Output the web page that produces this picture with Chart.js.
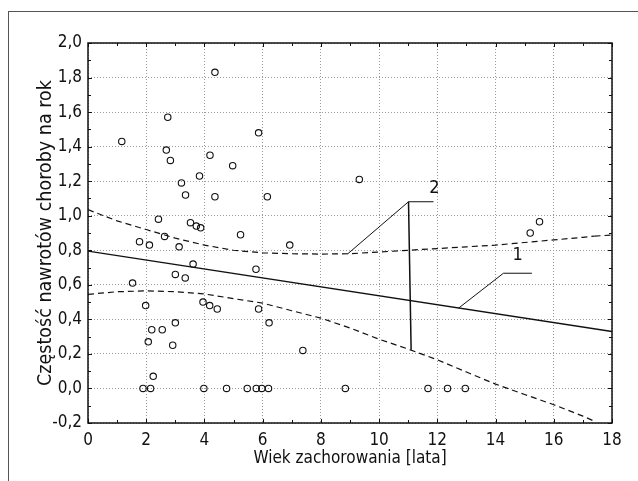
<!DOCTYPE html>
<html>
<head>
<meta charset="utf-8">
<script src="https://cdn.jsdelivr.net/npm/chart.js@4.4.1/dist/chart.umd.min.js"></script>
<style>
  html, body { margin: 0; padding: 0; background: #fff; }
  #wrap { position: relative; width: 638px; height: 481px; }
  #frame { position: absolute; left: 8px; top: 11px; right: 0; bottom: 0;
           border-left: 1.5px solid #555; border-top: 1.5px solid #555; }
  canvas { position: absolute; left: 0; top: 0; }
</style>
</head>
<body>
<div id="wrap">
  <div id="frame"></div>
  <canvas id="chart" width="638" height="481"></canvas>
</div>
<script>
// wiek zachorowania [lata] i częstość nawrotów na rok
const ageValues = [
  1.16, 2.74, 2.69, 2.83, 4.36, 4.19, 3.83, 3.21, 3.35, 4.36, 4.97, 5.86, 6.16,
  9.32, 6.93, 7.38, 15.51, 15.19, 2.42, 1.77, 2.11, 2.63, 3.13, 3.52, 3.72, 3.87,
  5.24, 3.61, 3.00, 3.34, 1.53, 5.77, 1.98, 3.95, 4.18, 4.44, 5.86, 3.00, 6.22,
  2.19, 2.55, 2.07, 2.91, 2.24,
  1.89, 2.15, 3.98, 4.76, 5.47, 5.78, 5.97, 6.20, 8.84, 11.68, 12.35, 12.96
];
const rateValues = [
  1.43, 1.57, 1.38, 1.32, 1.83, 1.35, 1.23, 1.19, 1.12, 1.11, 1.29, 1.48, 1.11,
  1.21, 0.83, 0.22, 0.965, 0.90, 0.98, 0.85, 0.83, 0.88, 0.82, 0.96, 0.94, 0.93,
  0.89, 0.72, 0.66, 0.64, 0.61, 0.69, 0.48, 0.50, 0.48, 0.46, 0.46, 0.38, 0.38,
  0.34, 0.34, 0.27, 0.25, 0.07,
  0, 0, 0, 0, 0, 0, 0, 0, 0, 0, 0, 0
];

// prosta regresji (1) i przedział ufności (2)
const fitX = [0, 18];
const fitY = [0.795, 0.33];
const bandX = [0, 1, 2, 3, 4, 5, 6, 7, 8, 9, 10, 11, 12, 13, 14, 15, 16, 17, 17.4];
const upperBand = [1.035, 0.97, 0.92, 0.87, 0.83, 0.80, 0.785, 0.78, 0.778, 0.78,
                   0.79, 0.80, 0.81, 0.82, 0.83, 0.845, 0.86, 0.875, 0.882];
const lowerBand = [0.545, 0.56, 0.565, 0.56, 0.547, 0.52, 0.494, 0.45, 0.407, 0.35,
                   0.285, 0.228, 0.166, 0.095, 0.025, -0.035, -0.094, -0.16, -0.19];
const upperTailX = [17.4, 18];
const upperTailY = [0.882, 0.888];

// odnośniki opisów
const label1X = [12.73, 14.27, 15.25];
const label1Y = [0.465, 0.667, 0.667];
const label2X = [8.92, 11.01, 11.87];
const label2Y = [0.779, 1.081, 1.081];
const label2VertX = [11.01, 11.1];
const label2VertY = [1.081, 0.224];
const labelTexts = ['1', '2'];
const labelPosX = [14.76, 11.9];
const labelPosY = [0.745, 1.13];

const xTicks = [0, 2, 4, 6, 8, 10, 12, 14, 16, 18];
const yTicks = [-0.2, 0, 0.2, 0.4, 0.6, 0.8, 1.0, 1.2, 1.4, 1.6, 1.8, 2.0];

const FONT = "'Liberation Sans Narrow', 'DejaVu Sans Condensed', sans-serif";

function pairs(xs, ys) {
  return xs.map((x, i) => ({ x: x, y: ys[i] }));
}

function lineSet(xs, ys, dash, width) {
  return {
    type: 'line',
    data: pairs(xs, ys),
    borderColor: '#111',
    borderWidth: width,
    borderDash: dash,
    pointRadius: 0,
    fill: false,
    tension: 0
  };
}

// ramka wykresu, ticki do środka, numery opisów
const framePlugin = {
  id: 'framePlugin',
  afterDatasetsDraw(chart) {
    const { ctx, chartArea: a, scales: { x, y } } = chart;
    ctx.save();
    ctx.strokeStyle = '#111';
    ctx.lineWidth = 1.5;
    ctx.strokeRect(a.left, a.top, a.right - a.left, a.bottom - a.top);

    ctx.lineWidth = 1;
    ctx.beginPath();
    for (let v = 0; v <= 18; v += 1) {
      const px = Math.round(x.getPixelForValue(v)) + 0.5;
      const len = v % 2 === 0 ? 4 : 3;
      ctx.moveTo(px, a.bottom); ctx.lineTo(px, a.bottom - len);
      ctx.moveTo(px, a.top); ctx.lineTo(px, a.top + len);
    }
    for (let i = -2; i <= 20; i++) {
      const py = Math.round(y.getPixelForValue(i / 10)) + 0.5;
      const len = i % 2 === 0 ? 4 : 3;
      ctx.moveTo(a.left, py); ctx.lineTo(a.left + len, py);
      ctx.moveTo(a.right, py); ctx.lineTo(a.right - len, py);
    }
    ctx.stroke();

    ctx.fillStyle = '#111';
    ctx.font = "18px " + FONT;
    ctx.textAlign = 'center';
    ctx.textBaseline = 'alphabetic';
    labelTexts.forEach((t, i) => {
      ctx.fillText(t, x.getPixelForValue(labelPosX[i]), y.getPixelForValue(labelPosY[i]));
    });
    ctx.restore();
  }
};

new Chart(document.getElementById('chart'), {
  type: 'scatter',
  data: {
    datasets: [
      lineSet(fitX, fitY, [], 1.4),
      lineSet(bandX, upperBand, [6, 4], 1.2),
      lineSet(upperTailX, upperTailY, [6, 4], 1.2),
      lineSet(bandX, lowerBand, [6, 4], 1.2),
      lineSet(label1X, label1Y, [], 1),
      lineSet(label2X, label2Y, [], 1),
      lineSet(label2VertX, label2VertY, [], 1.5),
      {
        type: 'scatter',
        data: pairs(ageValues, rateValues),
        pointStyle: 'circle',
        pointRadius: 3.2,
        backgroundColor: 'rgba(0,0,0,0)',
        borderColor: '#111',
        borderWidth: 1.1
      }
    ]
  },
  options: {
    responsive: false,
    animation: false,
    events: [],
    layout: { padding: { top: 43, right: 26, left: 0, bottom: 0 } },
    plugins: {
      legend: { display: false },
      tooltip: { enabled: false }
    },
    scales: {
      x: {
        type: 'linear',
        min: 0,
        max: 18,
        afterBuildTicks: s => { s.ticks = xTicks.map(v => ({ value: v })); },
        afterFit: s => { s.height = 58; },
        grid: { color: '#9a9a9a', lineWidth: 1, drawTicks: false },
        border: { display: false, dash: [1, 2] },
        ticks: {
          padding: 7,
          color: '#111',
          font: { family: FONT, size: 17 },
          maxRotation: 0,
          callback: v => String(v)
        },
        title: {
          display: true,
          text: 'Wiek zachorowania [lata]',
          color: '#111',
          font: { family: FONT, size: 17 },
          padding: { top: 0, bottom: 12 }
        }
      },
      y: {
        type: 'linear',
        min: -0.2,
        max: 2.0,
        afterBuildTicks: s => { s.ticks = yTicks.map(v => ({ value: v })); },
        afterFit: s => { s.width = 88; },
        grid: { color: '#9a9a9a', lineWidth: 1, drawTicks: false },
        border: { display: false, dash: [1, 2] },
        ticks: {
          padding: 6,
          color: '#111',
          font: { family: FONT, size: 17 },
          callback: v => v.toFixed(1).replace('.', ',')
        },
        title: {
          display: true,
          text: 'Częstość nawrotów choroby na rok',
          color: '#111',
          font: { family: FONT, size: 19.5 },
          padding: { top: 34, bottom: 0 }
        }
      }
    }
  },
  plugins: [framePlugin]
});
</script>
</body>
</html>
